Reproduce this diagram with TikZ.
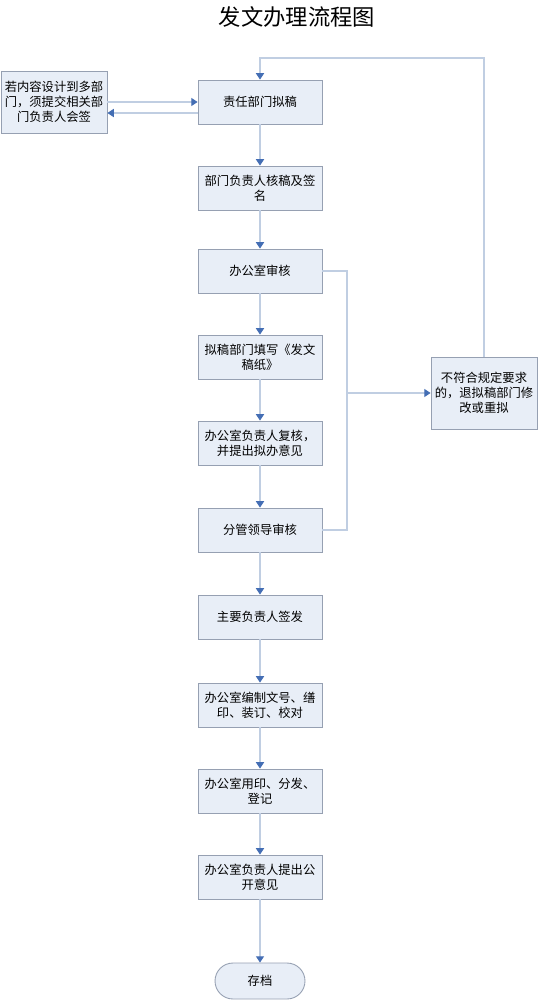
\documentclass[tikz,border=0pt]{standalone}
\usepackage{fontspec}
\setmainfont{Noto Sans CJK SC}
\usetikzlibrary{arrows.meta}

\definecolor{boxfill}{RGB}{232,238,247}
\definecolor{boxline}{RGB}{150,160,178}
\definecolor{linecol}{RGB}{192,206,226}
\definecolor{tipcol}{RGB}{68,110,180}

\tikzset{
	box/.style={shape=rectangle, draw=boxline, fill=boxfill, line width=0.5pt,
		minimum width=2.48cm, minimum height=0.88cm, align=center,
		font=\fontsize{7}{8.5}\selectfont, inner sep=1pt},
	sidebox/.style={box, minimum width=2.12cm},
	endbox/.style={box, rounded corners=0.36cm, minimum width=1.8cm, minimum height=0.72cm},
	line/.style={color=linecol, line width=0.6pt},
	flow/.style={line, -{Triangle[length=3.6pt, width=4.6pt, color=tipcol]}}
}

\begin{document}
\begin{tikzpicture}[x=0.02cm, y=-0.02cm]

	\useasboundingbox (0,0) rectangle (538,1000);

	\node (title) at (297,17) {\fontsize{12.7}{14}\selectfont 发文办理流程图};

	\node[box] (draft)   at (260,102) {责任部门拟稿};
	\node[box] (sign)    at (260,188) {部门负责人核稿及签\\名};
	\node[box] (check)   at (260,271) {办公室审核};
	\node[box] (paper)   at (260,357) {拟稿部门填写《发文\\稿纸》};
	\node[box] (review)  at (260,443) {办公室负责人复核，\\并提出拟办意见};
	\node[box] (lead)    at (260,530) {分管领导审核};
	\node[box] (issue)   at (260,617) {主要负责人签发};
	\node[box] (print)   at (260,705) {办公室编制文号、缮\\印、装订、校对};
	\node[box] (stamp)   at (260,791) {办公室用印、分发、\\登记};
	\node[box] (open)    at (260,877) {办公室负责人提出公\\开意见};
	\node[endbox] (file) at (260,981) {存档};

	\node[sidebox, minimum height=1.24cm] (cosign) at (54,102) {若内容设计到多部\\门，须提交相关部\\门负责人会签};
	\node[sidebox, minimum height=1.44cm] (reject) at (484,393) {不符合规定要求\\的，退拟稿部门修\\改或重拟};

	\coordinate (bus) at (347,393);
	\coordinate (top) at (484,58);

	\path[flow] (draft) edge (sign);
	\path[flow] (sign) edge (check);
	\path[flow] (check) edge (paper);
	\path[flow] (paper) edge (review);
	\path[flow] (review) edge (lead);
	\path[flow] (lead) edge (issue);
	\path[flow] (issue) edge (print);
	\path[flow] (print) edge (stamp);
	\path[flow] (stamp) edge (open);
	\path[flow] (open) edge (file);

	\path[flow] (cosign.east) edge (draft.west);
	\path[flow] ([yshift=-0.22cm]draft.west) edge ([yshift=-0.22cm]cosign.east);

	\draw[line] (check.east) -| (bus) |- (lead.east);
	\path[flow] (bus) edge (reject.west);
	\draw[flow] (reject.north) -- (top) -| (draft.north);

\end{tikzpicture}
\end{document}
